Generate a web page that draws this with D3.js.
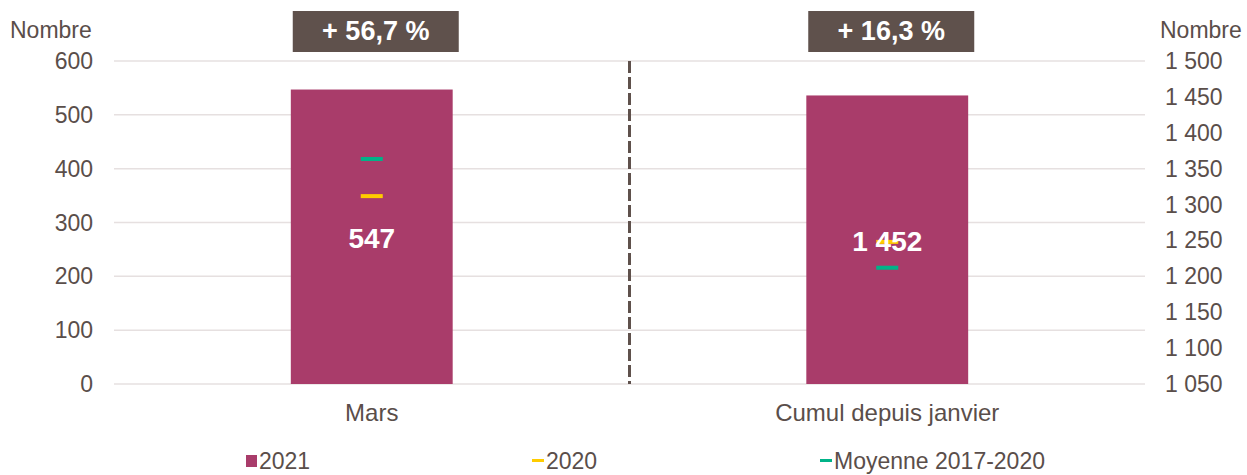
<!DOCTYPE html>
<html>
<head>
<meta charset="utf-8">
<script src="https://cdn.jsdelivr.net/npm/d3@7"></script>
<style>
  body { margin: 0; background: #fff; }
  svg { font-family: "Liberation Sans", Arial, sans-serif; }
</style>
</head>
<body>
<svg width="1247" height="475"></svg>
<script>
const categories = ["Mars", "Cumul depuis janvier"];
const values2021 = [547, 1452];
const values2020 = [349, 1248];
const valuesMoyenne = [418, 1212];
const evolutions = ["+ 56,7 %", "+ 16,3 %"];
const leftTicks = [0, 100, 200, 300, 400, 500, 600];
const rightTicks = [1050, 1100, 1150, 1200, 1250, 1300, 1350, 1400, 1450, 1500];
const legendLabels = ["2021", "2020", "Moyenne 2017-2020"];

const svg = d3.select("svg");
const textColor = "#5a4e4a";
const barColor = "#a93c6a";
const yellow = "#ffcc00";
const green = "#00b388";
const fmt = (d) => d3.format(",")(d).replace(/,/g, " ");

const marginLeft = 114;
const marginRight = 102;
const marginTop = 61;
const plotBottom = 384;
const width = 1247 - marginRight;

const x = d3
  .scaleBand()
  .domain(categories)
  .range([marginLeft, width])
  .paddingInner(0.686)
  .paddingOuter(0.343);
const yLeft = d3.scaleLinear().domain([0, 600]).range([plotBottom, marginTop]);
const yRight = d3.scaleLinear().domain([1050, 1500]).range([plotBottom, marginTop]);
// each category uses its own axis
const yFor = (i) => (i === 0 ? yLeft : yRight);

// grid
svg
  .append("g")
  .selectAll("line")
  .data(leftTicks)
  .enter()
  .append("line")
  .attr("x1", marginLeft)
  .attr("x2", width)
  .attr("y1", (d) => yLeft(d))
  .attr("y2", (d) => yLeft(d))
  .attr("stroke", "#e6e0e0")
  .attr("stroke-width", 1.5);

// left axis labels
svg
  .append("g")
  .selectAll("text")
  .data(leftTicks)
  .enter()
  .append("text")
  .attr("x", 93)
  .attr("y", (d) => yLeft(d))
  .attr("text-anchor", "end")
  .attr("dominant-baseline", "central")
  .attr("font-size", 23)
  .attr("fill", textColor)
  .text((d) => fmt(d));

// right axis labels
svg
  .append("g")
  .selectAll("text")
  .data(rightTicks)
  .enter()
  .append("text")
  .attr("x", 1165)
  .attr("y", (d) => yRight(d))
  .attr("dominant-baseline", "central")
  .attr("font-size", 23)
  .attr("fill", textColor)
  .text((d) => fmt(d));

svg
  .append("text")
  .attr("x", 10)
  .attr("y", 30)
  .attr("dominant-baseline", "central")
  .attr("font-size", 23)
  .attr("fill", textColor)
  .text("Nombre");
svg
  .append("text")
  .attr("x", 1160)
  .attr("y", 30)
  .attr("dominant-baseline", "central")
  .attr("font-size", 23)
  .attr("fill", textColor)
  .text("Nombre");

// divider
svg
  .append("line")
  .attr("x1", (x(categories[0]) + x(categories[1]) + x.bandwidth()) / 2)
  .attr("x2", (x(categories[0]) + x(categories[1]) + x.bandwidth()) / 2)
  .attr("y1", marginTop)
  .attr("y2", plotBottom)
  .attr("stroke", "#5f514c")
  .attr("stroke-width", 3)
  .attr("stroke-dasharray", "12 4");

// bars
svg
  .append("g")
  .selectAll("rect")
  .data(values2021)
  .enter()
  .append("rect")
  .attr("x", (d, i) => x(categories[i]))
  .attr("width", x.bandwidth())
  .attr("y", (d, i) => yFor(i)(d))
  .attr("height", (d, i) => plotBottom - yFor(i)(d))
  .attr("fill", barColor);

// markers
const markerW = 22;
[
  [values2020, yellow],
  [valuesMoyenne, green],
].forEach(([vals, color]) => {
  svg
    .append("g")
    .selectAll("rect")
    .data(vals)
    .enter()
    .append("rect")
    .attr("x", (d, i) => x(categories[i]) + x.bandwidth() / 2 - markerW / 2)
    .attr("y", (d, i) => yFor(i)(d) - 2)
    .attr("width", markerW)
    .attr("height", 4)
    .attr("fill", color);
});

// value labels
svg
  .append("g")
  .selectAll("text")
  .data(values2021)
  .enter()
  .append("text")
  .attr("x", (d, i) => x(categories[i]) + x.bandwidth() / 2)
  .attr("y", (d, i) => (yFor(i)(d) + plotBottom) / 2 + 2)
  .attr("text-anchor", "middle")
  .attr("dominant-baseline", "central")
  .attr("font-size", 28)
  .attr("font-weight", "bold")
  .attr("fill", "#fff")
  .text((d) => fmt(d));

// evolution boxes
const boxes = svg
  .append("g")
  .selectAll("g")
  .data(evolutions)
  .enter()
  .append("g")
  .attr("transform", (d, i) => `translate(${x(categories[i]) + x.bandwidth() / 2 + 4},31)`);
boxes
  .append("rect")
  .attr("x", -83)
  .attr("y", -20)
  .attr("width", 166)
  .attr("height", 41)
  .attr("fill", "#5f514c");
boxes
  .append("text")
  .attr("text-anchor", "middle")
  .attr("dominant-baseline", "central")
  .attr("font-size", 27)
  .attr("font-weight", "bold")
  .attr("fill", "#fff")
  .text((d) => d);

// category labels
svg
  .append("g")
  .selectAll("text")
  .data(categories)
  .enter()
  .append("text")
  .attr("x", (d) => x(d) + x.bandwidth() / 2)
  .attr("y", 412)
  .attr("text-anchor", "middle")
  .attr("dominant-baseline", "central")
  .attr("font-size", 24)
  .attr("fill", textColor)
  .text((d) => d);

// legend
const legendX = [246, 532, 820];
const legend = svg
  .append("g")
  .selectAll("g")
  .data(legendLabels)
  .enter()
  .append("g")
  .attr("transform", (d, i) => `translate(${legendX[i]},461)`);
legend
  .append("rect")
  .attr("x", 0)
  .attr("y", (d, i) => (i === 0 ? -6 : -2))
  .attr("width", (d, i) => (i === 0 ? 11 : 12))
  .attr("height", (d, i) => (i === 0 ? 12 : 3))
  .attr("fill", (d, i) => [barColor, yellow, green][i]);
legend
  .append("text")
  .attr("x", (d, i) => (i === 0 ? 13 : 14))
  .attr("dominant-baseline", "central")
  .attr("font-size", 23)
  .attr("fill", textColor)
  .text((d) => d);
</script>
</body>
</html>
